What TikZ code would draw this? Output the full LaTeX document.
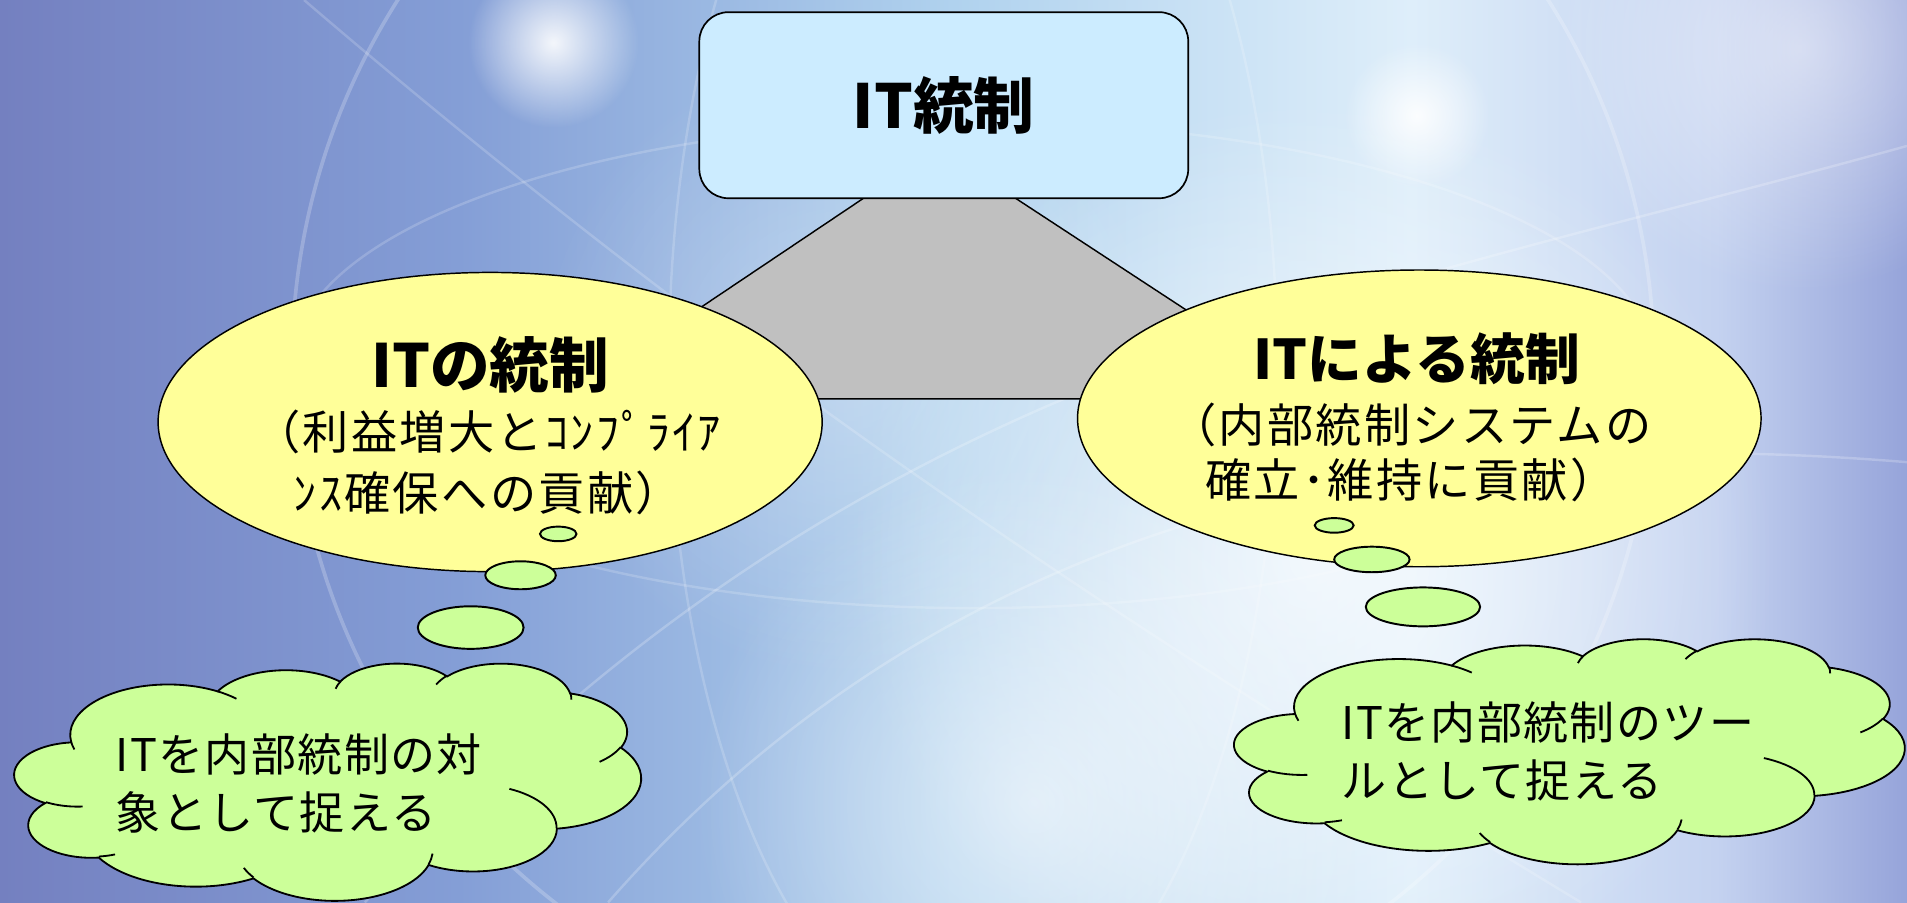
\documentclass[tikz,border=0pt]{standalone}
\usepackage{fontspec}
\setmainfont{Noto Sans CJK JP}
\usetikzlibrary{fadings,shapes.geometric}
\definecolor{boxfill}{RGB}{204,236,255}
\definecolor{ellfill}{RGB}{255,255,153}
\definecolor{grnfill}{RGB}{204,255,153}
\definecolor{trapfill}{RGB}{192,192,192}
\definecolor{bgA}{RGB}{116,128,192}
\definecolor{bgB}{RGB}{132,158,214}
\definecolor{bgC}{RGB}{176,210,238}
\definecolor{bgD}{RGB}{222,238,250}
\definecolor{bgE}{RGB}{196,210,240}
\definecolor{bgF}{RGB}{150,164,218}
\pgfdeclarehorizontalshading{bgshade}{100bp}{color(0bp)=(bgA); color(25bp)=(bgA); color(37bp)=(bgB); color(50bp)=(bgC); color(62bp)=(bgD); color(70bp)=(bgE); color(75bp)=(bgF); color(100bp)=(bgF)}
\tikzfading[name=glowfade, inner color=transparent!0, outer color=transparent!100]
% PowerPoint-style cloud geometry (43.2 x 43.2 box)
\newcommand\cldcalc[4]{%
  \pgfmathsetmacro\cA{atan2((#1)*sin(#3),(#2)*cos(#3))}%
  \pgfmathsetmacro\cB{atan2((#1)*sin((#3)+(#4)),(#2)*cos((#3)+(#4)))}%
  \pgfmathsetmacro\cD{mod((\cB)-(\cA)+720,360)}%
  \xdef\cldA{\cA}\xdef\cldD{\cD}}
\newcommand\cldarc[4]{\pgfextra{\cldcalc{#1}{#2}{#3}{#4}} arc[x radius=#1, y radius=#2, start angle=\cldA, delta angle=\cldD]}
\newcommand\cloudoutline{(3.900,14.370)
 \cldarc{6.753}{9.190}{-190.4875}{123.7805}
 \cldarc{5.333}{7.267}{-144.1024}{89.9452}
 \cldarc{4.365}{5.945}{-145.8079}{99.7230}
 \cldarc{4.857}{6.595}{-130.9861}{117.2417}
 \cldarc{5.333}{7.273}{-78.7089}{109.0269}
 \cldarc{6.775}{9.220}{-46.2673}{130.2690}
 \cldarc{5.785}{7.867}{0.6250}{114.0333}
 \cldarc{6.752}{9.215}{22.4516}{115.1726}
 \cldarc{7.720}{10.543}{66.2426}{75.7110}
 \cldarc{4.360}{5.918}{-274.9421}{146.7356}
 \cldarc{4.345}{5.945}{-246.8285}{152.5189}
 -- cycle}
\newcommand\cloudinner{(4.693,26.177) \cldarc{4.345}{5.945}{86.7420}{26.4295}
 (6.928,34.899) \cldarc{4.360}{5.918}{73.6105}{11.4475}
 (16.478,39.090) \cldarc{6.752}{9.215}{137.6242}{14.0811}
 (28.827,34.751) \cldarc{6.752}{9.215}{6.4533}{15.9984}
 (34.129,22.954) \cldarc{5.785}{7.867}{-70.2924}{70.9174}
 (41.798,15.354) \cldarc{5.333}{7.273}{30.3180}{27.7515}
 (38.324,5.426) \cldarc{4.857}{6.595}{-13.7443}{14.8589}
 (29.078,3.952) \cldarc{4.857}{6.595}{-149.1815}{18.1954}
 (22.141,4.720) \cldarc{4.365}{5.945}{-163.4943}{17.6864}
 (14.000,5.192) \cldarc{6.753}{9.190}{-66.7070}{12.3194}
 (4.127,15.789) \cldarc{6.753}{9.190}{157.6544}{11.8582}}
\begin{document}
\begin{tikzpicture}[x=1pt,y=-1pt,
  topbox/.style={draw=black, line width=1.4pt, fill=boxfill, rounded corners=24pt, minimum width=402pt, minimum height=153pt, inner sep=0pt},
  bigell/.style={ellipse, draw=black, line width=1.2pt, fill=ellfill, inner sep=0pt},
  bub/.style={ellipse, draw=black, line width=1.6pt, fill=grnfill, inner sep=0pt},
  cloudst/.style={draw=black, line width=1.5pt, fill=grnfill},
  title/.style={font=\fontsize{#1}{#1}\selectfont\bfseries, inner sep=0pt},
  title/.default=46,
  sub/.style={font=\fontsize{38}{#1}\selectfont\addfontfeatures{LetterSpace=5}, align=center, inner sep=0pt},
  sub/.default=48,
  cltext/.style={font=\fontsize{37}{48}\selectfont\addfontfeatures{LetterSpace=3}, align=left, anchor=west, inner sep=0pt},
  glow/.style={white, path fading=glowfade}
]
% background
\path[use as bounding box] (0,0) rectangle (1568,742);
\begin{scope}
\clip (0,0) rectangle (1568,742);
\shade[shading=bgshade] (0,0) rectangle (1568,742);
\fill[glow, fill opacity=0.7] (1080,460) circle[radius=380];
\fill[glow, fill opacity=0.55] (850,660) circle[radius=280];
\fill[glow, fill opacity=0.3] (700,300) circle[radius=260];
\fill[glow, fill opacity=0.9] (455,35) circle[radius=70];
\fill[glow, fill opacity=0.9] (1165,95) circle[radius=60];
\fill[glow, fill opacity=0.5] (1480,40) circle[radius=200];
\draw[white, opacity=0.22, line width=3pt] (800,300) circle[radius=560];
\draw[white, opacity=0.18, line width=2pt] (800,300) ellipse[x radius=560, y radius=200];
\draw[white, opacity=0.18, line width=2pt] (800,300) ellipse[x radius=250, y radius=560];
\draw[white, opacity=0.22, line width=2pt] (300,742) .. controls (700,300) and (1100,250) .. (1568,120);
\draw[white, opacity=0.22, line width=2pt] (500,742) .. controls (800,400) and (1200,350) .. (1568,380);
\draw[white, opacity=0.18, line width=2pt] (250,0) .. controls (600,300) and (900,500) .. (1300,742);
\end{scope}
% trapezoid
\coordinate (tl) at (710,163);
\coordinate (tr) at (835,163);
\coordinate (br) at (1087,328);
\coordinate (bl) at (464,328);
\filldraw[fill=trapfill, draw=black, line width=1.2pt] (bl) -- (tl) -- (tr) -- (br) -- cycle;
% top box
\node[topbox] (top) at (776,86.5) {};
\node[title=50] (toptxt) at (top) {IT統制};
% big ellipses
\node[bigell, minimum width=546pt, minimum height=246pt] (lell) at (403,347) {};
\node[bigell, minimum width=562pt, minimum height=244pt] (rell) at (1167,344) {};
\node[title=49] (lt) at (403,300) {ITの統制};
\node[sub=50] (ls) at (401,380) {（利益増大とｺﾝﾌﾟﾗｲｱ\\ﾝｽ確保への貢献）};
\node[title=45] (rt) at (1165,295) {ITによる統制};
\node[sub=45] (rs) at (1160,372) {（内部統制システムの\\確立･維持に貢献）};
% bubbles
\node[bub, minimum width=30pt, minimum height=12pt] (lb1) at (459,439) {};
\node[bub, minimum width=58pt, minimum height=23pt] (lb2) at (428,473) {};
\node[bub, minimum width=87pt, minimum height=35pt] (lb3) at (387,516) {};
\node[bub, minimum width=32pt, minimum height=12pt] (rb1) at (1097,432) {};
\node[bub, minimum width=62pt, minimum height=21pt] (rb2) at (1128,460) {};
\node[bub, minimum width=94pt, minimum height=32pt] (rb3) at (1170,499) {};
% clouds
\begin{scope}[shift={(12,545)}, xscale=515/43.2, yscale=195/43.2]
 \filldraw[cloudst] \cloudoutline;
 \draw[cloudst, fill=none] \cloudinner;
\end{scope}
\node[cltext] (lct) at (95,644) {ITを内部統制の対\\象として捉える};
\begin{scope}[shift={(1015,525)}, xscale=551/43.2, yscale=185/43.2]
 \filldraw[cloudst] \cloudoutline;
 \draw[cloudst, fill=none] \cloudinner;
\end{scope}
\node[cltext] (rct) at (1103,618) {ITを内部統制のツー\\ルとして捉える};
\end{tikzpicture}
\end{document}
